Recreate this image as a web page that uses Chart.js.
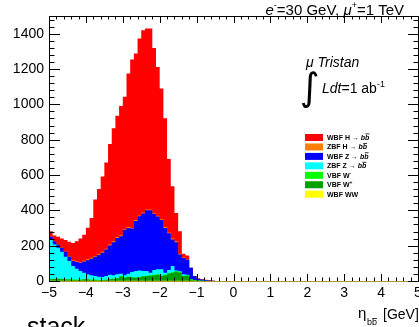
<!DOCTYPE html>
<html>
<head>
<meta charset="utf-8">
<title>eta bb stack</title>
<script src="https://cdn.jsdelivr.net/npm/chart.js@4.4.0/dist/chart.umd.min.js"></script>
<style>
    html, body { margin: 0; padding: 0; background: #fff; }
    #wrap { width: 419px; height: 327px; }
</style>
</head>
<body>
<div id="wrap"><canvas id="stack-chart" width="419" height="327"></canvas></div>
<script>
// lower bin edges in eta (0.1 wide bins), the last entry closes the last bin
const binEdges = [-5.0, -4.9, -4.8, -4.7, -4.6, -4.5, -4.4, -4.3, -4.2, -4.1,
    -4.0, -3.9, -3.8, -3.7, -3.6, -3.5, -3.4, -3.3, -3.2, -3.1,
    -3.0, -2.9, -2.8, -2.7, -2.6, -2.5, -2.4, -2.3, -2.2, -2.1,
    -2.0, -1.9, -1.8, -1.7, -1.6, -1.5, -1.4, -1.3, -1.2, -1.1,
    -1.0, -0.9, -0.8, -0.7, -0.6, -0.5];

// stacked sums as drawn by THStack (each includes all the layers below it)
const sumWbfH = [282, 257, 250, 240, 232, 222, 215, 225, 240, 262,
    301, 357, 461, 521, 592, 671, 775, 865, 935, 990,
    1043, 1175, 1254, 1288, 1372, 1419, 1429, 1429, 1319, 1212,
    1090, 921, 690, 536, 385, 282, 154, 145, 70, 28,
    15, 10, 7, 4, 2];
const sumZbfH = [252, 227, 209, 190, 167, 140, 117, 112, 108, 116,
    123, 131, 142, 152, 165, 183, 206, 225, 249, 259,
    295, 305, 302, 345, 371, 387, 405, 405, 385, 370,
    350, 305, 275, 240, 225, 154, 133, 125, 77, 28,
    12, 8, 5, 3, 1];
const sumWbfZ = [250, 225, 207, 188, 165, 137, 113, 107, 103, 111,
    118, 126, 137, 147, 160, 178, 201, 220, 244, 254,
    290, 300, 297, 340, 366, 382, 400, 400, 380, 365,
    345, 300, 270, 235, 220, 150, 130, 122, 75, 28,
    12, 8, 5, 3, 1];
const sumZbfZ = [235, 207, 188, 165, 137, 113, 85, 70, 56, 47,
    38, 32, 28, 24, 23, 28, 36, 32, 38, 41,
    32, 41, 51, 56, 60, 56, 56, 47, 62, 66,
    66, 47, 62, 85, 60, 55, 38, 36, 12, 5,
    3, 2, 1, 0, 0];
const sumWm = [12, 14, 14, 12, 10, 10, 8, 8, 8, 10,
    10, 8, 8, 6, 6, 8, 12, 14, 16, 28,
    20, 25, 22, 20, 22, 28, 30, 32, 35, 38,
    30, 35, 45, 48, 55, 50, 30, 32, 10, 5,
    2, 1, 0, 0, 0];
const sumWp = [10, 12, 12, 10, 8, 8, 6, 6, 6, 8,
    8, 6, 6, 4, 4, 6, 10, 12, 14, 26,
    18, 23, 20, 18, 20, 26, 28, 30, 33, 36,
    28, 33, 43, 46, 53, 48, 28, 30, 8, 4,
    1, 0, 0, 0, 0];
const sumWW = [1, 1, 1, 1, 1, 1, 1, 1, 1, 1,
    1, 1, 1, 1, 1, 1, 1, 1, 1, 1,
    1, 1, 1, 1, 1, 1, 1, 1, 1, 1,
    1, 1, 1, 1, 1, 1, 1, 1, 1, 1,
    0, 0, 0, 0, 0];

const xTicks = [-5, -4, -3, -2, -1, 0, 1, 2, 3, 4, 5];
const yTicks = [0, 200, 400, 600, 800, 1000, 1200, 1400];

const legendNames = ['WBF H', 'ZBF H', 'WBF Z', 'ZBF Z', 'VBF W', 'VBF W', 'WBF WW'];
const legendColors = ['#ff0000', '#ff8000', '#0000ff', '#00ffff', '#00ff00', '#00a000', '#ffff00'];

const FONT = '"Liberation Sans", Arial, sans-serif';

function histPoints(vals) {
    return binEdges.map((x, i) => ({ x: x, y: i < vals.length ? vals[i] : 0 }));
}

function layer(label, vals, color) {
    return {
        label: label,
        data: histPoints(vals),
        stepped: true,
        fill: 'origin',
        backgroundColor: color,
        borderColor: 'rgba(0,0,0,0)',
        borderWidth: 0,
        pointRadius: 0
    };
}

// draw a run of text pieces, returns the x where it ended
function drawRuns(ctx, runs, x, y, measureOnly) {
    let cx = x;
    runs.forEach(r => {
        ctx.font = r.f;
        if (!measureOnly) ctx.fillText(r.t, cx, y + (r.dy || 0));
        const w = ctx.measureText(r.t).width;
        if (r.bar && !measureOnly) {
            ctx.fillRect(cx + w * 0.1, y + (r.dy || 0) - r.bar, w * 0.9, 0.8);
        }
        cx += w + (r.gap || 0);
    });
    return cx;
}

const decor = {
    id: 'decor',
    afterDraw(chart) {
        const ctx = chart.ctx;
        const a = chart.chartArea;
        const xs = chart.scales.x, ys = chart.scales.y;
        ctx.save();

        // frame
        ctx.strokeStyle = '#000';
        ctx.lineWidth = 1;
        ctx.beginPath();
        ctx.moveTo(a.left + 0.5, a.bottom);
        ctx.lineTo(a.left + 0.5, a.top + 0.5);
        ctx.lineTo(a.right + 0.5, a.top + 0.5);
        ctx.lineTo(a.right + 0.5, a.bottom);
        ctx.stroke();
        ctx.strokeStyle = '#a89c2c';
        ctx.beginPath();
        ctx.moveTo(a.left, a.bottom + 0.5);
        ctx.lineTo(a.right + 1, a.bottom + 0.5);
        ctx.stroke();

        // ticks inside the frame, root style
        ctx.strokeStyle = '#000';
        ctx.beginPath();
        for (let v = -5; v <= 5.001; v += 0.2) {
            const major = xTicks.some(t => Math.abs(t - v) < 1e-6);
            const len = major ? 7 : 3.5;
            const px = Math.round(xs.getPixelForValue(v)) + 0.5;
            ctx.moveTo(px, a.bottom);
            ctx.lineTo(px, a.bottom - len);
            ctx.moveTo(px, a.top);
            ctx.lineTo(px, a.top + len);
        }
        for (let v = 0; v <= 1500; v += 40) {
            const major = yTicks.includes(v);
            const len = major ? 11 : 5.5;
            const py = Math.round(ys.getPixelForValue(v)) + 0.5;
            ctx.moveTo(a.left, py);
            ctx.lineTo(a.left + len, py);
            ctx.moveTo(a.right + 1, py);
            ctx.lineTo(a.right + 1 - len, py);
        }
        ctx.stroke();

        ctx.fillStyle = '#000';
        ctx.textBaseline = 'alphabetic';
        ctx.textAlign = 'left';

        // beam energies, top right
        const head = [
            { t: 'e', f: 'italic 15px ' + FONT },
            { t: '-', f: '9px ' + FONT, dy: -7 },
            { t: '=30 GeV, ', f: '15px ' + FONT },
            { t: 'μ', f: 'italic 15px ' + FONT },
            { t: '+', f: '9px ' + FONT, dy: -7 },
            { t: '=1 TeV', f: '15px ' + FONT }
        ];
        const hw = drawRuns(ctx, head, 0, 0, true);
        drawRuns(ctx, head, 404 - hw, 15);

        // machine and luminosity
        ctx.font = 'italic 14px ' + FONT;
        ctx.fillText('μ Tristan', 306, 67);
        ctx.font = '38px "DejaVu Sans"';
        ctx.fillText('∫', 300, 100);
        drawRuns(ctx, [
            { t: 'Ldt', f: 'italic 14px ' + FONT },
            { t: '=1 ab', f: '14px ' + FONT },
            { t: '-1', f: '9px ' + FONT, dy: -6 }
        ], 322, 93);

        // legend
        legendNames.forEach((name, i) => {
            const cy = 137.5 + i * 9.45;
            ctx.fillStyle = legendColors[i];
            ctx.fillRect(305, cy - 3.5, 18, 7);
            ctx.fillStyle = '#000';
            const runs = [{ t: name, f: 'bold 7px ' + FONT }];
            if (i < 4) {
                runs.push({ t: ' → ', f: 'bold 7px ' + FONT });
                runs.push({ t: 'b', f: 'bold italic 7px ' + FONT });
                runs.push({ t: 'b', f: 'bold italic 7px ' + FONT, bar: 6.5 });
            } else if (i === 4) {
                runs.push({ t: '-', f: 'bold 5px ' + FONT, dy: -3 });
            } else if (i === 5) {
                runs.push({ t: '+', f: 'bold 5px ' + FONT, dy: -3 });
            }
            drawRuns(ctx, runs, 327, cy + 2.5);
        });

        // x axis title
        ctx.font = '15px ' + FONT;
        ctx.fillText('η', 358, 318);
        drawRuns(ctx, [
            { t: 'b', f: '9px ' + FONT },
            { t: 'b', f: '9px ' + FONT, bar: 7 }
        ], 367, 325);
        ctx.font = '14px ' + FONT;
        ctx.fillText('[GeV]', 383, 319);

        // stack title, cut at the bottom
        ctx.font = '25px ' + FONT;
        ctx.fillText('stack', 27, 335);

        ctx.restore();
    }
};

new Chart(document.getElementById('stack-chart'), {
    type: 'line',
    data: {
        datasets: [
            layer('WBF WW', sumWW, '#ffff00'),
            layer('VBF W+', sumWp, '#00a000'),
            layer('VBF W-', sumWm, '#00ff00'),
            layer('ZBF Z', sumZbfZ, '#00ffff'),
            layer('WBF Z', sumWbfZ, '#0000ff'),
            layer('ZBF H', sumZbfH, '#ff8000'),
            layer('WBF H', sumWbfH, '#ff0000')
        ]
    },
    options: {
        responsive: false,
        animation: false,
        events: [],
        layout: { padding: { top: 16, right: 1, left: 0, bottom: 0 } },
        scales: {
            x: {
                type: 'linear',
                min: -5,
                max: 5,
                grid: { display: false, drawTicks: false },
                border: { display: false },
                afterFit(scale) {
                    scale.height = 46;
                    scale.paddingLeft = 0;
                    scale.paddingRight = 0;
                },
                ticks: {
                    stepSize: 1,
                    padding: 4,
                    color: '#000',
                    maxRotation: 0,
                    autoSkip: false,
                    font: { family: FONT, size: 14 },
                    callback: v => (v < 0 ? '\u2212' + Math.abs(v) : String(v))
                }
            },
            y: {
                min: 0,
                max: 1500,
                grid: { display: false, drawTicks: false },
                border: { display: false },
                afterFit(scale) {
                    scale.width = 49;
                    scale.paddingTop = 0;
                    scale.paddingBottom = 0;
                },
                ticks: {
                    stepSize: 200,
                    includeBounds: false,
                    padding: 5,
                    color: '#000',
                    font: { family: FONT, size: 14 },
                    callback: v => String(v)
                }
            }
        },
        plugins: {
            legend: { display: false },
            tooltip: { enabled: false }
        }
    },
    plugins: [decor]
});
</script>
</body>
</html>
